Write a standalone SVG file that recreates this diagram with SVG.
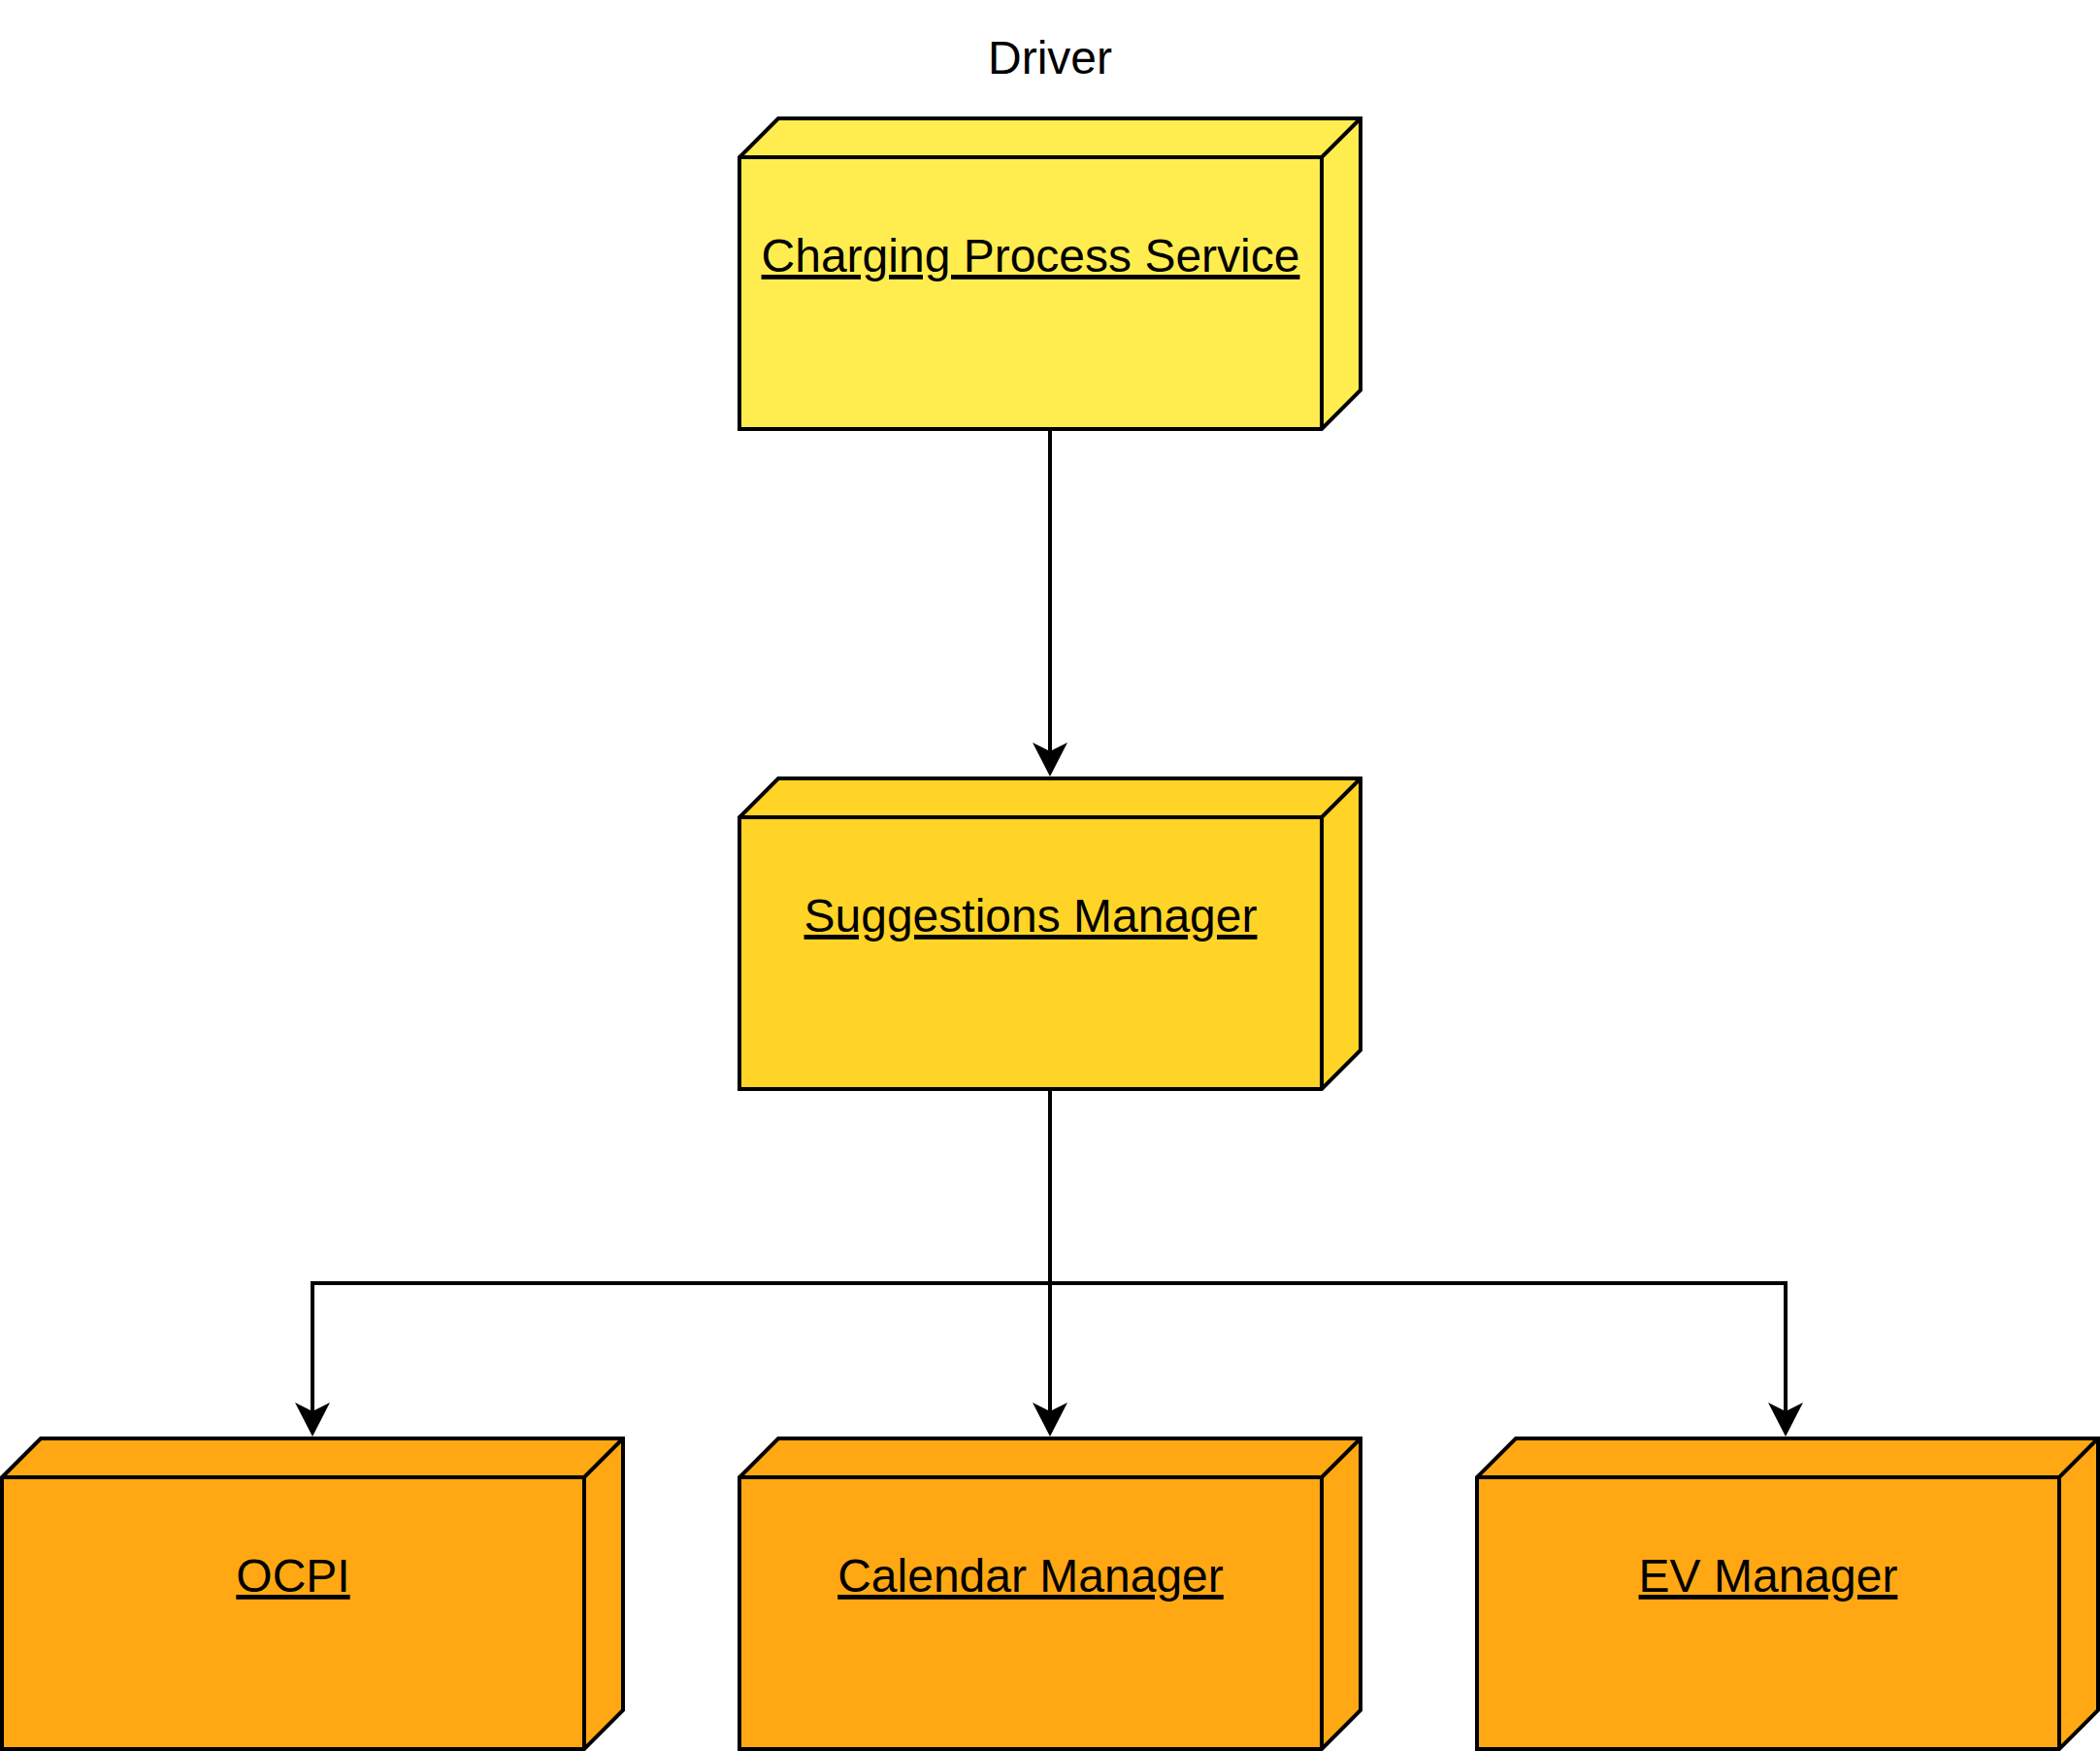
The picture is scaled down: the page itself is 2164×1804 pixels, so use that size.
<svg xmlns="http://www.w3.org/2000/svg" width="2164" height="1804" viewBox="0 0 2164 1804">
<style>
.box{stroke:#000;stroke-width:4;stroke-linejoin:miter}
.edge{fill:none;stroke:#000;stroke-width:4}
.lbl{font-family:"Liberation Sans",Arial,sans-serif;font-size:48px;fill:#000;text-anchor:middle}
.u{text-decoration:underline}
</style>
<rect width="2164" height="1804" fill="#fff"/>
<text class="lbl" x="1082" y="76">Driver</text>
<g id="connectors">
<path class="edge" d="M1082,442 L1082,778" />
<path d="M1082,800 L1064,765 L1082,774 L1100,765 Z" fill="#000"/>
<path class="edge" d="M1082,1122 L1082,1458" />
<path class="edge" d="M1082,1322 L322,1322 L322,1458" />
<path class="edge" d="M1082,1322 L1840,1322 L1840,1458" />
<path d="M322,1480 L304,1445 L322,1454 L340,1445 Z" fill="#000"/>
<path d="M1082,1480 L1064,1445 L1082,1454 L1100,1445 Z" fill="#000"/>
<path d="M1840,1480 L1822,1445 L1840,1454 L1858,1445 Z" fill="#000"/>
</g>
<g id="charging-process-service">
<path class="box" fill="#FFED50" d="M762,162 L802,122 L1402,122 L1402,402 L1362,442 L762,442 Z"/>
<path class="edge" d="M762,162 L1362,162 L1402,122 M1362,162 L1362,442"/>
<text class="lbl u" x="1062" y="280">Charging Process Service</text>
</g>
<g id="suggestions-manager">
<path class="box" fill="#FFD426" d="M762,842 L802,802 L1402,802 L1402,1082 L1362,1122 L762,1122 Z"/>
<path class="edge" d="M762,842 L1362,842 L1402,802 M1362,842 L1362,1122"/>
<text class="lbl u" x="1062" y="960">Suggestions Manager</text>
</g>
<g id="ocpi">
<path class="box" fill="#FFA813" d="M2,1522 L42,1482 L642,1482 L642,1762 L602,1802 L2,1802 Z"/>
<path class="edge" d="M2,1522 L602,1522 L642,1482 M602,1522 L602,1802"/>
<text class="lbl u" x="302" y="1640">OCPI</text>
</g>
<g id="calendar-manager">
<path class="box" fill="#FFA813" d="M762,1522 L802,1482 L1402,1482 L1402,1762 L1362,1802 L762,1802 Z"/>
<path class="edge" d="M762,1522 L1362,1522 L1402,1482 M1362,1522 L1362,1802"/>
<text class="lbl u" x="1062" y="1640">Calendar Manager</text>
</g>
<g id="ev-manager">
<path class="box" fill="#FFA813" d="M1522,1522 L1562,1482 L2162,1482 L2162,1762 L2122,1802 L1522,1802 Z"/>
<path class="edge" d="M1522,1522 L2122,1522 L2162,1482 M2122,1522 L2122,1802"/>
<text class="lbl u" x="1822" y="1640">EV Manager</text>
</g>
</svg>
